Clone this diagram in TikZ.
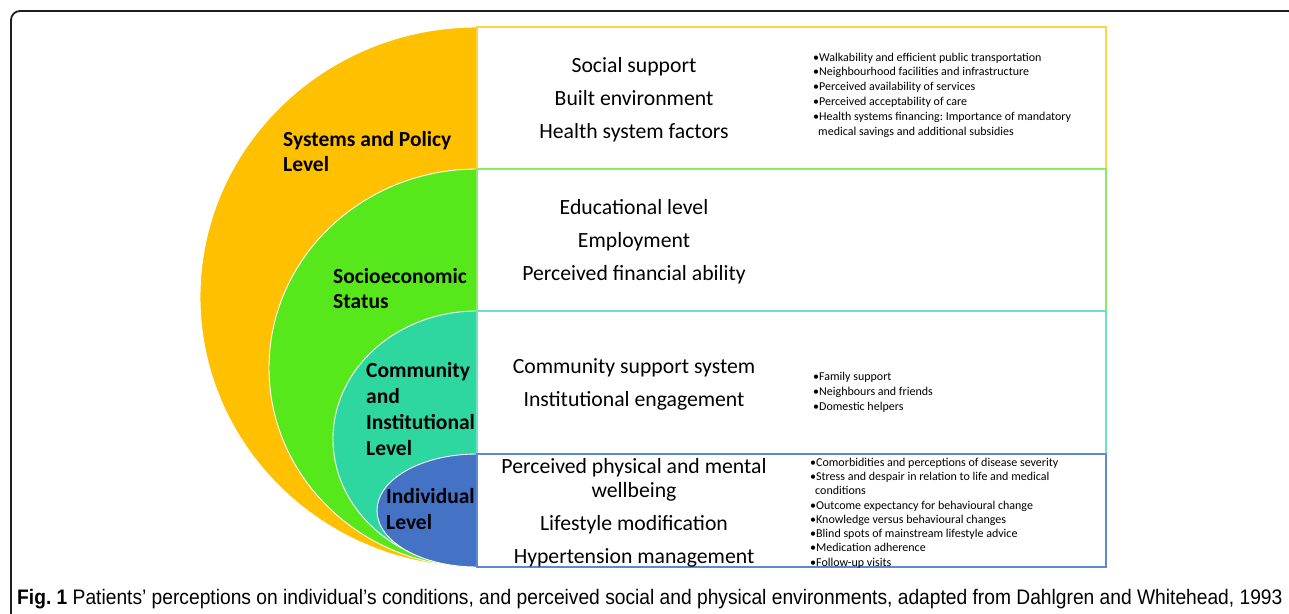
\documentclass[tikz,border=0pt]{standalone}
\usepackage{fontspec}
\setmainfont{Carlito}
\newfontfamily\capfont[FakeStretch=0.915]{Liberation Sans}
\frenchspacing
\begin{document}
\definecolor{sysfill}{HTML}{FFC000}
\definecolor{sesfill}{HTML}{56E81A}
\definecolor{comfill}{HTML}{2ED6A0}
\definecolor{indfill}{HTML}{4472C4}
\definecolor{sysline}{HTML}{FFD24A}
\definecolor{sesline}{HTML}{8CEB5E}
\definecolor{comline}{HTML}{6FE0C2}
\definecolor{indline}{HTML}{5E88D0}
\definecolor{framecol}{HTML}{1E1E1E}
\begin{tikzpicture}[x=1pt,y=-1pt,
  layer/.style={draw=white,line width=0.9pt},
  rowbox/.style={draw,line width=1.3pt,minimum width=629pt,anchor=north west,inner sep=0pt,outer sep=0pt},
  factor/.style={font=\fontsize{21.7}{26}\selectfont,anchor=base,inner sep=0pt},
  levellabel/.style={font=\fontsize{21.5}{26}\selectfont\bfseries,anchor=base west,inner sep=0pt},
  bullets/.style={font=\fontsize{12}{14.8}\selectfont,align=left,anchor=west,inner sep=0pt},
]
\useasboundingbox (0,0) rectangle (1289,613);
% outer frame
\draw[framecol,line width=1.8pt,rounded corners=9pt] (11,11) rectangle (1297,650);

% nested half-ellipses, outermost first
\fill[sysfill,layer] (477,27) arc[start angle=270,end angle=90,x radius=277,y radius=270] -- cycle;
\fill[sesfill,layer] (477,169) arc[start angle=270,end angle=90,x radius=208,y radius=199] -- cycle;
\fill[comfill,layer] (477,311) arc[start angle=270,end angle=90,x radius=144,y radius=128] -- cycle;
\fill[indfill,layer] (477,454) arc[start angle=270,end angle=90,x radius=100,y radius=56.5] -- cycle;

% rows of factors
\node[rowbox,draw=sysline,minimum height=142pt] (sysbox) at (477,27) {};
\node[rowbox,draw=sesline,minimum height=142pt] (sesbox) at (477,169) {};
\node[rowbox,draw=comline,minimum height=143pt] (combox) at (477,311) {};
\node[rowbox,draw=indline,minimum height=113pt] (indbox) at (477,454) {};

% level labels
\node[levellabel] (sys1) at (283,146) {Systems and Policy};
\node[levellabel] (sys2) at (283,171.5) {Level};
\node[levellabel] (ses1) at (333,283) {Socioeconomic};
\node[levellabel] (ses2) at (333,308.5) {Status};
\node[levellabel] (com1) at (366,377) {Community};
\node[levellabel] (com2) at (366,403) {and};
\node[levellabel] (com3) at (366,429) {Institutional};
\node[levellabel] (com4) at (366,455) {Level};
\node[levellabel] (ind1) at (386,503) {Individual};
\node[levellabel] (ind2) at (386,529) {Level};

% factors per level
\node[factor] (f1) at (634,72) {Social support};
\node[factor] (f2) at (634,105) {Built environment};
\node[factor] (f3) at (634,138) {Health system factors};
\node[factor] (f4) at (634,214) {Educational level};
\node[factor] (f5) at (634,247) {Employment};
\node[factor] (f6) at (634,280) {Perceived financial ability};
\node[factor] (f7) at (634,373) {Community support system};
\node[factor] (f8) at (634,406) {Institutional engagement};
\node[factor] (f9) at (634,473) {Perceived physical and mental};
\node[factor] (f10) at (634,497) {wellbeing};
\node[factor] (f11) at (634,530) {Lifestyle modification};
\node[factor] (f12) at (634,563) {Hypertension management};

% detailed findings
\node[bullets] (b1) at (813,95) {•Walkability and efficient public transportation\\
•Neighbourhood facilities and infrastructure\\
•Perceived availability of services\\
•Perceived acceptability of care\\
•Health systems financing: Importance of mandatory\\
\hspace*{5pt}medical savings and additional subsidies};
\node[bullets] (b2) at (813,392) {•Family support\\
•Neighbours and friends\\
•Domestic helpers};
\node[bullets,font=\fontsize{12}{14.3}\selectfont] (b3) at (810,513) {•Comorbidities and perceptions of disease severity\\
•Stress and despair in relation to life and medical\\
\hspace*{5pt}conditions\\
•Outcome expectancy for behavioural change\\
•Knowledge versus behavioural changes\\
•Blind spots of mainstream lifestyle advice\\
•Medication adherence\\
•Follow-up visits};

% caption
\node[anchor=base west,inner sep=0pt,font=\capfont\fontsize{21}{25}\selectfont] (cap) at (17,604.5)
  {\textbf{Fig. 1} Patients’ perceptions on individual’s conditions, and perceived social and physical environments, adapted from Dahlgren and Whitehead, 1993};
\end{tikzpicture}
\end{document}
